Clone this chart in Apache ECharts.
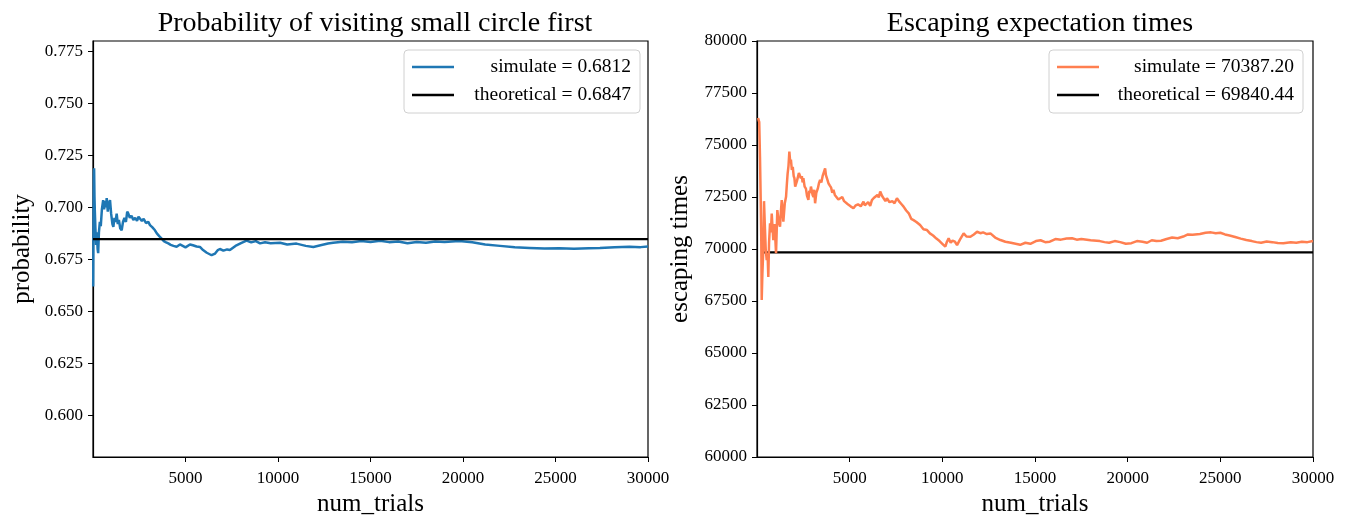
<!DOCTYPE html>
<html>
<head>
<meta charset="utf-8">
<script src="https://cdn.jsdelivr.net/npm/echarts@6/dist/echarts.min.js"></script>
<style>
  html, body { margin: 0; padding: 0; background: #fff; }
  #container { width: 1352px; height: 520px; }
</style>
</head>
<body>
<div id="container"></div>
<script>
// trials vs running estimate
let probSimulated = [
  [10,0.662],[25,0.690],[45,0.716],[60,0.7188],[80,0.705],[100,0.698],[130,0.690],[170,0.682],
  [210,0.688],[250,0.680],[280,0.678],[320,0.688],[370,0.693],[420,0.691],[480,0.699],[550,0.7035],
  [600,0.699],[650,0.703],[700,0.700],[740,0.7045],[800,0.698],[860,0.702],[920,0.7035],[980,0.697],
  [1050,0.692],[1100,0.6907],[1160,0.695],[1220,0.693],[1280,0.697],[1340,0.692],[1400,0.694],[1470,0.690],
  [1550,0.689],[1620,0.693],[1700,0.695],[1780,0.693],[1850,0.698],[1910,0.697],[1990,0.695],[2080,0.696],
  [2180,0.694],[2280,0.695],[2380,0.6935],[2460,0.6955],[2540,0.6948],[2640,0.6935],[2740,0.6945],[2860,0.6925],
  [2990,0.693],[3080,0.6915],[3200,0.6905],[3350,0.689],[3450,0.6875],[3580,0.6862],[3710,0.685],[3830,0.6838],
  [3950,0.6832],[4070,0.6827],[4200,0.682],[4350,0.6815],[4520,0.6811],[4700,0.6822],[4850,0.6815],[5000,0.6808],
  [5240,0.6822],[5400,0.6818],[5600,0.6812],[5780,0.681],[5950,0.6795],[6150,0.6782],[6410,0.677],[6600,0.6778],
  [6750,0.6795],[6860,0.680],[7050,0.6792],[7250,0.6798],[7400,0.6795],[7700,0.6815],[8000,0.6828],[8300,0.684],
  [8550,0.6832],[8800,0.6838],[9030,0.6827],[9300,0.6832],[9600,0.6828],[10110,0.683],[10500,0.6822],[11000,0.6826],
  [11500,0.6815],[11910,0.681],[12300,0.6818],[12700,0.6826],[12980,0.683],[13500,0.6835],[14000,0.6832],[14500,0.6838],
  [15000,0.6834],[15520,0.684],[16000,0.6833],[16500,0.6836],[17000,0.6828],[17500,0.6834],[18000,0.683],[18500,0.6836],
  [19000,0.6834],[19800,0.6838],[20500,0.6832],[21200,0.6822],[22000,0.6815],[22800,0.6808],[23600,0.6805],[24400,0.6802],
  [25200,0.6804],[26000,0.6801],[26800,0.6804],[27400,0.6805],[28200,0.6808],[29000,0.6811],[29600,0.6809],[30000,0.6812]
];

let escapeSimulated = [
  [60,76300],[120,76100],[162,74400],[200,72350],[230,70500],[254,67550],[290,68800],[340,69950],
  [378,72300],[420,71200],[470,70000],[524,69470],[570,69800],[611,68650],[650,70300],[703,71230],
  [750,70800],[795,71700],[840,71000],[881,70430],[950,71200],[1027,69800],[1097,71870],[1170,71300],
  [1243,71070],[1290,71800],[1335,72350],[1380,71900],[1422,71310],[1500,72200],[1567,72510],[1610,73100],
  [1650,73600],[1700,74000],[1746,74680],[1790,74200],[1830,74300],[1880,73800],[1930,73950],[1980,73500],
  [2020,73400],[2060,73000],[2108,72920],[2150,73250],[2200,73300],[2260,73650],[2324,73720],[2370,73400],
  [2420,73500],[2460,73200],[2503,73400],[2570,73000],[2640,72900],[2700,72550],[2773,72360],[2820,72800],
  [2870,72700],[2910,73000],[2957,72920],[3000,72600],[3050,72500],[3090,72850],[3135,72200],[3200,72700],
  [3280,72900],[3340,73150],[3405,73320],[3470,73200],[3540,73500],[3600,73450],[3675,73880],[3720,73550],
  [3760,73500],[3810,73300],[3854,73160],[3930,73050],[4000,72950],[4060,72700],[4124,72840],[4200,72600],
  [4300,72600],[4390,72380],[4486,72440],[4600,72500],[4700,72300],[4800,72250],[4900,72150],[5050,72050],
  [5205,71960],[5330,72100],[5450,72150],[5600,72050],[5746,72280],[5820,72100],[5900,72150],[6000,72250],
  [6108,72070],[6200,72350],[6300,72450],[6400,72520],[6500,72600],[6570,72480],[6648,72760],[6750,72550],
  [6850,72500],[6930,72300],[7010,72440],[7150,72250],[7300,72300],[7420,72200],[7551,72440],[7620,72350],
  [7700,72250],[7800,72150],[7908,72040],[8050,71850],[8200,71700],[8320,71450],[8448,71390],[8600,71300],
  [8800,71150],[8980,70950],[9172,70910],[9330,70750],[9500,70650],[9680,70500],[9850,70380],[10000,70250],
  [10161,70110],[10250,70350],[10340,70510],[10450,70300],[10550,70400],[10680,70350],[10794,70190],[10950,70450],
  [11150,70750],[11300,70600],[11513,70590],[11700,70700],[11875,70830],[12050,70760],[12200,70800],[12400,70720],
  [12594,70750],[12850,70550],[13134,70430],[13400,70350],[13700,70300],[13950,70250],[14200,70200],[14480,70300],
  [14750,70250],[15050,70380],[15300,70420],[15550,70330],[15800,70350],[16100,70480],[16400,70450],[16700,70500],
  [17000,70520],[17250,70450],[17500,70480],[18000,70420],[18500,70380],[18750,70330],[19000,70300],[19300,70380],
  [19600,70330],[19900,70250],[20200,70280],[20500,70380],[20800,70350],[21050,70300],[21300,70420],[21550,70380],
  [21800,70400],[22100,70480],[22400,70550],[22700,70520],[23000,70600],[23250,70700],[23500,70680],[23900,70720],
  [24200,70780],[24500,70800],[24750,70760],[25000,70780],[25250,70700],[25500,70650],[25800,70580],[26100,70500],
  [26400,70430],[26700,70380],[26950,70330],[27200,70300],[27500,70360],[27800,70330],[28100,70290],[28400,70280],
  [28800,70320],[29100,70300],[29400,70350],[29700,70330],[30000,70387]
];

let probTheory = 0.6847;
let escapeTheory = 69840.44;
let probLast = 0.6812;
let escapeLast = 70387.20;

let xTicks = [5000, 10000, 15000, 20000, 25000, 30000];
let probTicks = [0.600, 0.625, 0.650, 0.675, 0.700, 0.725, 0.750, 0.775];

let font = '"Liberation Serif", "DejaVu Serif", serif';

let dom = document.getElementById("container");
let chart = echarts.init(dom);

function xAxisOpt(idx) {
    return {
        type: 'value',
        gridIndex: idx,
        min: 0,
        max: 30000,
        name: 'num_trials',
        nameLocation: 'middle',
        nameGap: 35,
        nameTextStyle: {color: '#000', fontFamily: font, fontSize: 25},
        axisLine: {show: true, lineStyle: {color: '#000', width: 1.2}},
        axisTick: {show: true, length: 5, customValues: xTicks, lineStyle: {color: '#000', width: 1}},
        axisLabel: {customValues: xTicks, color: '#000', fontFamily: font, fontSize: 17, margin: 13,
            formatter: (v) => String(v)},
        splitLine: {show: false}
    };
}

function legendOpt(right, textWidth) {
    return {
        right: right,
        top: 50,
        orient: 'vertical',
        itemWidth: 42,
        itemHeight: 2.5,
        itemGap: 8,
        padding: [7, 9, 8, 8],
        borderColor: '#d0d0d0',
        borderWidth: 1,
        borderRadius: 4,
        backgroundColor: 'rgba(255,255,255,0.8)',
        formatter: (name) => '{a|' + name + '}',
        textStyle: {
            color: '#000',
            rich: {a: {width: textWidth, align: 'right', fontFamily: font, fontSize: 19.5, color: '#000'}}
        }
    };
}

let simName1 = 'simulate = ' + probLast.toFixed(4);
let theoName1 = 'theoretical = ' + probTheory.toFixed(4);
let simName2 = 'simulate = ' + escapeLast.toFixed(2);
let theoName2 = 'theoretical = ' + escapeTheory.toFixed(2);

let legend1 = legendOpt(712, 172);
legend1.data = [{name: simName1, icon: 'rect'}, {name: theoName1, icon: 'rect'}];
let legend2 = legendOpt(49, 190);
legend2.data = [{name: simName2, icon: 'rect'}, {name: theoName2, icon: 'rect'}];

chart.setOption({
    animation: false,
    title: [{
        text: 'Probability of visiting small circle first',
        left: 370, top: 5, textAlign: 'center',
        textStyle: {fontFamily: font, fontSize: 28, fontWeight: 'normal', color: '#000'}
    }, {
        text: 'Escaping expectation times',
        left: 1035, top: 5, textAlign: 'center',
        textStyle: {fontFamily: font, fontSize: 28, fontWeight: 'normal', color: '#000'}
    }],
    legend: [legend1, legend2],
    grid: [
        {left: 93, right: 704, top: 41, bottom: 63, show: true, borderColor: '#000', borderWidth: 1.2,
            outerBoundsMode: 'none', containLabel: false},
        {left: 757, right: 39, top: 41, bottom: 63, show: true, borderColor: '#000', borderWidth: 1.2,
            outerBoundsMode: 'none', containLabel: false}
    ],
    xAxis: [xAxisOpt(0), xAxisOpt(1)],
    yAxis: [{
        type: 'value',
        gridIndex: 0,
        min: 0.58,
        max: 0.78,
        name: 'probability',
        nameLocation: 'middle',
        nameGap: 58,
        nameTextStyle: {color: '#000', fontFamily: font, fontSize: 25},
        axisLine: {show: true, lineStyle: {color: '#000', width: 1.2}},
        axisTick: {show: true, length: 5, customValues: probTicks, lineStyle: {color: '#000', width: 1}},
        axisLabel: {customValues: probTicks, color: '#000', fontFamily: font, fontSize: 17, margin: 10,
            formatter: (v) => v.toFixed(3)},
        splitLine: {show: false}
    }, {
        type: 'value',
        gridIndex: 1,
        min: 60000,
        max: 80000,
        interval: 2500,
        name: 'escaping times',
        nameLocation: 'middle',
        nameGap: 64,
        nameTextStyle: {color: '#000', fontFamily: font, fontSize: 25},
        axisLine: {show: true, lineStyle: {color: '#000', width: 1.2}},
        axisTick: {show: true, length: 5, lineStyle: {color: '#000', width: 1}},
        axisLabel: {color: '#000', fontFamily: font, fontSize: 17, margin: 10,
            formatter: (v) => String(v)},
        splitLine: {show: false}
    }],
    series: [{
        name: simName1,
        type: 'line',
        xAxisIndex: 0, yAxisIndex: 0,
        data: probSimulated,
        showSymbol: false,
        color: '#1f77b4',
        lineStyle: {width: 2.5, color: '#1f77b4'},
        z: 2
    }, {
        name: theoName1,
        type: 'line',
        xAxisIndex: 0, yAxisIndex: 0,
        data: [[0, probTheory], [30000, probTheory]],
        showSymbol: false,
        color: '#000',
        lineStyle: {width: 2.2, color: '#000'},
        z: 3
    }, {
        name: simName2,
        type: 'line',
        xAxisIndex: 1, yAxisIndex: 1,
        data: escapeSimulated,
        showSymbol: false,
        color: '#ff7f50',
        lineStyle: {width: 2.5, color: '#ff7f50'},
        z: 3
    }, {
        name: theoName2,
        type: 'line',
        xAxisIndex: 1, yAxisIndex: 1,
        data: [[250, escapeTheory], [30000, escapeTheory]],
        showSymbol: false,
        color: '#000',
        lineStyle: {width: 2.2, color: '#000'},
        z: 2
    }]
});
</script>
</body>
</html>
